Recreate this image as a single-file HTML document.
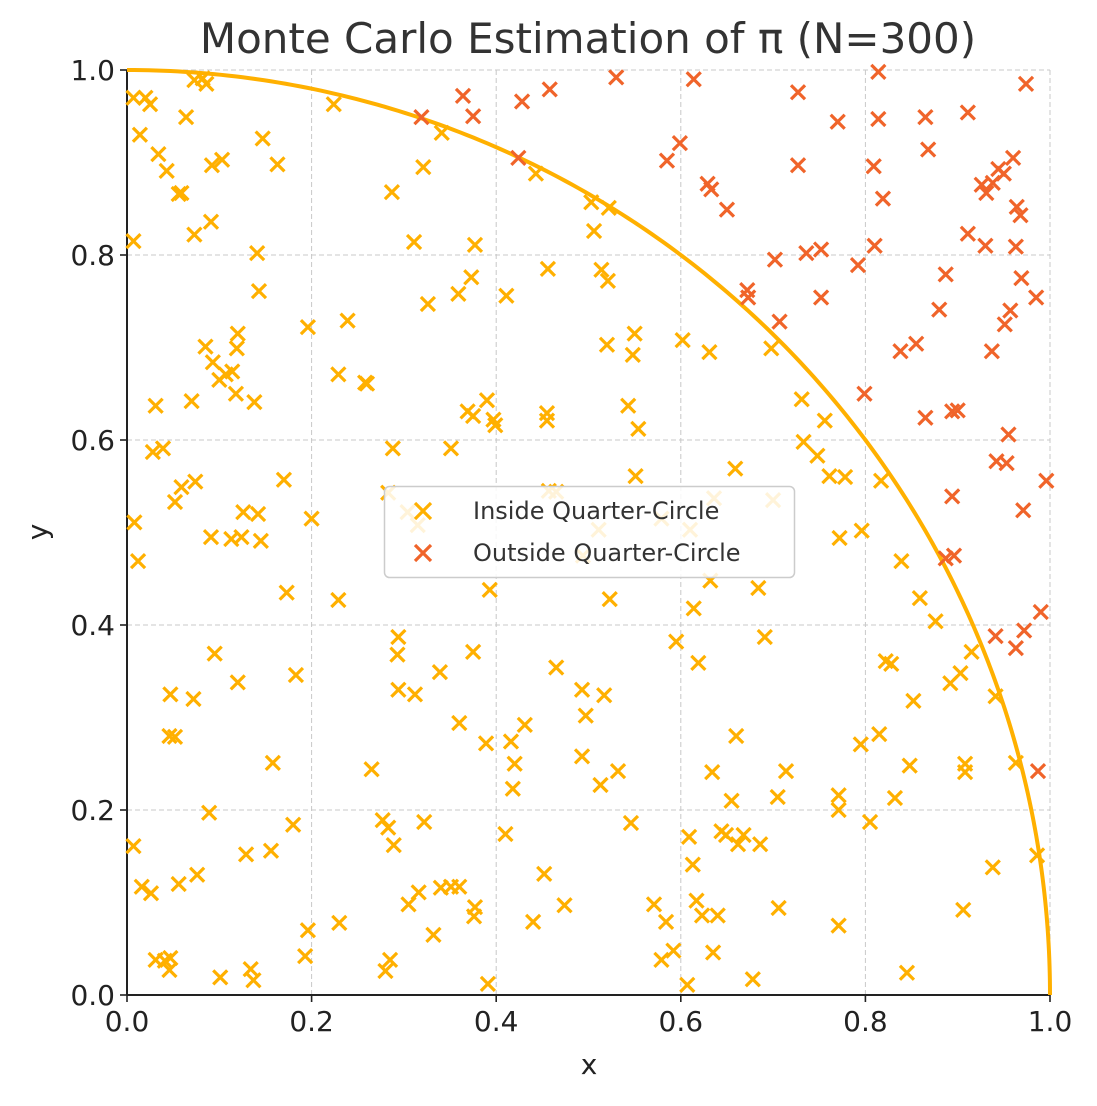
<!DOCTYPE html>
<html><head><meta charset="utf-8"><style>
body{margin:0;background:#fff;}
svg text{font-family:"DejaVu Sans","Liberation Sans",sans-serif;}
</style></head><body>
<svg id="chart" width="1097" height="1101" xmlns="http://www.w3.org/2000/svg">
<text x="588" y="53" font-size="42" text-anchor="middle" fill="#333">Monte Carlo Estimation of π (N=300)</text>
<g id="grid"></g>
<g id="axes"></g>
<path id="arc" fill="none" stroke="#ffb000" stroke-width="4"/>
<g id="inside"></g>
<g id="outside"></g>
<text x="589" y="1074" font-size="28" text-anchor="middle" fill="#222">x</text>
<text transform="translate(47,532) rotate(-90)" font-size="28" text-anchor="middle" fill="#222">y</text>
<g>
<rect x="384.5" y="486.5" width="410" height="91" rx="5" fill="#fff" fill-opacity="0.85" stroke="#ccc" stroke-width="1.5"/>
<g>
<path d="M415,503 L431,519 M431,503 L415,519" stroke="#ffb000" stroke-width="3.2"/>
<text x="473" y="519" font-size="24" fill="#333">Inside Quarter-Circle</text></g>
<g>
<path d="M415,545 L431,561 M431,545 L415,561" stroke="#f0642a" stroke-width="3.2"/>
<text x="473" y="561" font-size="24" fill="#333">Outside Quarter-Circle</text></g>
</g>
</svg>
<script>
const ticks=[0,0.2,0.4,0.6,0.8,1.0];
const tickLabels=["0.0","0.2","0.4","0.6","0.8","1.0"];
const insideX=[0.007,0.020,0.025,0.014,0.034,0.043,0.056,0.059,0.064,0.073,0.082,0.086,0.073,0.091,0.092,0.103,0.147,0.163,0.007,0.141,0.143,0.224,0.287,0.311,0.321,0.341,0.326,0.359,0.373,0.377,0.411,0.196,0.239,0.229,0.258,0.260,0.085,0.093,0.100,0.107,0.114,0.119,0.120,0.118,0.138,0.070,0.031,0.028,0.039,0.059,0.052,0.074,0.008,0.012,0.091,0.113,0.126,0.142,0.145,0.124,0.170,0.200,0.173,0.229,0.288,0.283,0.304,0.315,0.351,0.369,0.375,0.390,0.397,0.399,0.455,0.455,0.457,0.465,0.456,0.443,0.503,0.522,0.506,0.514,0.521,0.520,0.550,0.548,0.543,0.554,0.551,0.511,0.494,0.523,0.579,0.610,0.636,0.632,0.614,0.595,0.619,0.602,0.631,0.659,0.698,0.700,0.684,0.691,0.731,0.733,0.748,0.756,0.761,0.778,0.772,0.796,0.817,0.839,0.859,0.876,0.822,0.828,0.892,0.903,0.915,0.941,0.852,0.815,0.795,0.848,0.832,0.805,0.771,0.771,0.908,0.908,0.963,0.986,0.938,0.906,0.771,0.845,0.706,0.714,0.705,0.668,0.662,0.686,0.655,0.660,0.634,0.644,0.649,0.609,0.613,0.617,0.623,0.640,0.635,0.678,0.592,0.579,0.571,0.584,0.607,0.546,0.532,0.513,0.493,0.497,0.493,0.517,0.465,0.431,0.416,0.420,0.418,0.410,0.452,0.474,0.440,0.389,0.360,0.375,0.339,0.393,0.294,0.293,0.294,0.312,0.277,0.283,0.289,0.322,0.305,0.316,0.340,0.351,0.360,0.377,0.376,0.332,0.285,0.280,0.391,0.230,0.196,0.193,0.265,0.183,0.180,0.156,0.158,0.129,0.120,0.095,0.072,0.047,0.046,0.052,0.089,0.076,0.056,0.016,0.026,0.007,0.031,0.041,0.047,0.046,0.101,0.134,0.137];
const insideY=[0.970,0.970,0.963,0.930,0.909,0.891,0.866,0.867,0.949,0.989,0.991,0.985,0.822,0.836,0.897,0.903,0.926,0.898,0.815,0.802,0.761,0.963,0.868,0.814,0.895,0.932,0.747,0.758,0.776,0.811,0.756,0.722,0.729,0.671,0.662,0.661,0.701,0.684,0.665,0.671,0.674,0.699,0.715,0.650,0.641,0.642,0.637,0.587,0.591,0.549,0.533,0.555,0.511,0.469,0.495,0.493,0.522,0.520,0.491,0.495,0.557,0.515,0.435,0.427,0.591,0.543,0.522,0.508,0.591,0.631,0.626,0.643,0.622,0.616,0.629,0.621,0.545,0.544,0.785,0.888,0.857,0.851,0.826,0.784,0.772,0.703,0.715,0.692,0.637,0.612,0.561,0.503,0.475,0.428,0.515,0.503,0.537,0.448,0.418,0.382,0.359,0.708,0.695,0.569,0.699,0.535,0.440,0.387,0.644,0.598,0.583,0.621,0.561,0.560,0.494,0.502,0.556,0.469,0.429,0.404,0.361,0.358,0.337,0.348,0.371,0.323,0.318,0.282,0.271,0.248,0.213,0.187,0.216,0.200,0.250,0.241,0.251,0.151,0.138,0.092,0.075,0.024,0.094,0.242,0.214,0.173,0.163,0.163,0.210,0.280,0.241,0.177,0.173,0.171,0.141,0.102,0.086,0.086,0.046,0.017,0.048,0.038,0.098,0.079,0.011,0.186,0.242,0.227,0.258,0.302,0.330,0.324,0.354,0.292,0.274,0.250,0.223,0.174,0.131,0.097,0.079,0.272,0.294,0.371,0.349,0.438,0.387,0.368,0.330,0.325,0.189,0.181,0.162,0.187,0.098,0.111,0.116,0.117,0.117,0.095,0.085,0.065,0.038,0.026,0.012,0.078,0.070,0.042,0.244,0.346,0.184,0.156,0.251,0.152,0.338,0.369,0.320,0.325,0.280,0.279,0.197,0.130,0.120,0.117,0.110,0.161,0.038,0.037,0.040,0.027,0.019,0.028,0.016];
const outsideX=[0.319,0.364,0.375,0.428,0.458,0.424,0.530,0.614,0.599,0.585,0.629,0.633,0.650,0.672,0.673,0.707,0.702,0.727,0.727,0.736,0.752,0.752,0.770,0.792,0.809,0.814,0.814,0.819,0.810,0.799,0.838,0.855,0.865,0.868,0.880,0.887,0.865,0.894,0.900,0.894,0.896,0.887,0.911,0.926,0.931,0.930,0.938,0.944,0.950,0.960,0.911,0.974,0.964,0.968,0.963,0.969,0.985,0.957,0.951,0.937,0.955,0.953,0.942,0.971,0.996,0.990,0.972,0.941,0.963,0.987];
const outsideY=[0.949,0.972,0.950,0.966,0.979,0.905,0.992,0.990,0.921,0.902,0.877,0.871,0.849,0.762,0.754,0.728,0.795,0.976,0.897,0.802,0.806,0.754,0.944,0.789,0.896,0.947,0.998,0.861,0.810,0.650,0.696,0.704,0.949,0.914,0.741,0.779,0.624,0.631,0.632,0.539,0.475,0.472,0.823,0.876,0.867,0.810,0.878,0.893,0.888,0.905,0.954,0.985,0.852,0.843,0.809,0.775,0.754,0.740,0.725,0.696,0.606,0.575,0.577,0.524,0.556,0.414,0.394,0.388,0.375,0.242];

const X0=127,X1=1050,Y0=995,Y1=70;
const sx=v=>X0+(X1-X0)*v, sy=v=>Y0-(Y0-Y1)*v;
const NS="http://www.w3.org/2000/svg";
function mk(tag,attrs,parent){const e=document.createElementNS(NS,tag);for(const k in attrs)e.setAttribute(k,attrs[k]);parent.appendChild(e);return e;}
const grid=document.getElementById('grid'),axes=document.getElementById('axes');
ticks.forEach((t,i)=>{
  const gx=mk('line',{x1:sx(t),x2:sx(t),y1:Y1,y2:Y0,stroke:'#c8c8c8','stroke-dasharray':'5,3','stroke-width':1},grid);
  
  
  const gy=mk('line',{x1:X0,x2:X1,y1:sy(t),y2:sy(t),stroke:'#c8c8c8','stroke-dasharray':'5,3','stroke-width':1},grid);
  
  
  mk('line',{x1:sx(t),x2:sx(t),y1:Y0,y2:Y0+7,stroke:'#222','stroke-width':1.6},axes);
  mk('line',{x1:X0-7,x2:X0,y1:sy(t),y2:sy(t),stroke:'#222','stroke-width':1.6},axes);
  const tx=mk('text',{x:sx(t),y:Y0+36,'font-size':28,'text-anchor':'middle',fill:'#222'},axes);
  tx.textContent=tickLabels[i];
  
  
  const ty=mk('text',{x:X0-12,y:sy(t)+10,'font-size':28,'text-anchor':'end',fill:'#222'},axes);
  ty.textContent=tickLabels[i];
  
  
});
const xa=mk('line',{x1:X0,x2:X1,y1:Y0,y2:Y0,stroke:'#222','stroke-width':2},axes);


const ya=mk('line',{x1:X0,x2:X0,y1:Y0,y2:Y1,stroke:'#222','stroke-width':2},axes);


let d='';
for(let i=0;i<=200;i++){const a=Math.PI/2*i/200;d+=(i?'L':'M')+sx(Math.cos(a)).toFixed(2)+','+sy(Math.sin(a)).toFixed(2);}
document.getElementById('arc').setAttribute('d',d);
function pts(xs,ys,g,col,name){
  xs.forEach((x,i)=>{const cx=sx(x),cy=sy(ys[i]),r=7;
    const p=mk('path',{d:`M${cx-r},${cy-r}L${cx+r},${cy+r}M${cx+r},${cy-r}L${cx-r},${cy+r}`,stroke:col,'stroke-width':3.2,fill:'none'},g);
    
    
  });
}
pts(insideX,insideY,document.getElementById('inside'),'#ffb000','inside-point');
pts(outsideX,outsideY,document.getElementById('outside'),'#f0642a','outside-point');
</script>
</body></html>
